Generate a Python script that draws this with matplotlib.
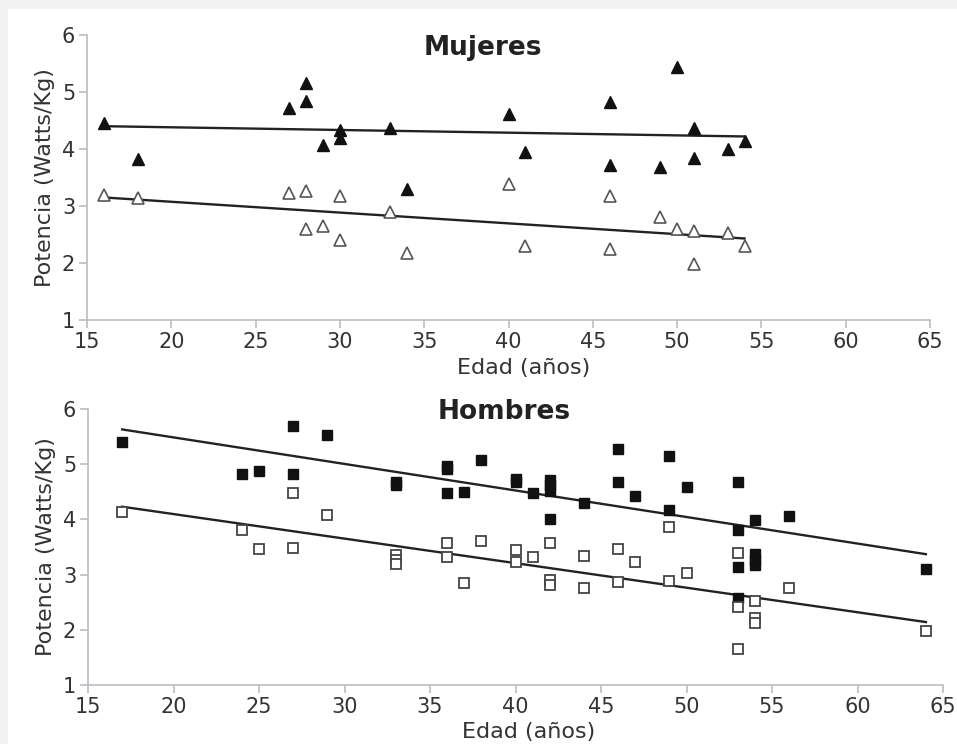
import numpy as np
import matplotlib
matplotlib.use("Agg")
import matplotlib.pyplot as plt
from matplotlib.patches import Rectangle

# Mujeres - potencia alta (triangulos llenos)
muj_edad_a = [16, 18, 27, 28, 28, 29, 30, 30, 33, 34, 40, 41, 46, 46, 49, 50, 51, 51, 53, 54]
muj_pot_a = [4.46, 3.83, 4.72, 5.15, 4.84, 4.07, 4.34, 4.20, 4.36, 3.30,
             4.62, 3.95, 4.82, 3.72, 3.69, 5.43, 4.36, 3.84, 4.00, 4.14]
# Mujeres - potencia baja (triangulos vacios)
muj_edad_b = [16, 18, 27, 28, 28, 29, 30, 30, 33, 34, 40, 41, 46, 46, 49, 50, 51, 51, 53, 54]
muj_pot_b = [3.19, 3.14, 3.23, 3.26, 2.59, 2.65, 3.17, 2.40, 2.90, 2.17,
             3.38, 2.29, 3.17, 2.24, 2.81, 2.60, 2.57, 1.98, 2.52, 2.30]
muj_trend_x = [16, 54]
muj_trend_a = [4.40, 4.22]
muj_trend_b = [3.15, 2.43]

# Hombres - potencia alta (cuadrados llenos)
hom_edad_a = [17, 24, 25, 27, 27, 29, 33, 33, 36, 36, 36, 37, 38, 40, 40, 41, 42, 42, 42, 42,
              44, 46, 46, 47, 49, 49, 50, 53, 53, 53, 53, 54, 54, 54, 54, 56, 64]
hom_pot_a = [5.41, 4.82, 4.87, 5.69, 4.82, 5.52, 4.68, 4.63, 4.97, 4.91, 4.48, 4.50, 5.08,
             4.74, 4.67, 4.48, 4.72, 4.62, 4.52, 4.01, 4.30, 5.27, 4.68, 4.43, 5.15, 4.17,
             4.58, 4.68, 3.81, 3.14, 2.58, 3.99, 3.37, 3.27, 3.18, 4.06, 3.11]
# Hombres - potencia baja (cuadrados vacios)
hom_edad_b = [17, 24, 25, 27, 27, 29, 33, 33, 33, 36, 36, 37, 38, 40, 40, 41, 42, 42, 42,
              44, 44, 46, 46, 47, 49, 49, 50, 53, 53, 53, 54, 54, 54, 56, 64]
hom_pot_b = [4.13, 3.81, 3.46, 4.47, 3.49, 4.08, 3.36, 3.26, 3.19, 3.57, 3.32, 2.84, 3.61,
             3.45, 3.23, 3.32, 3.57, 2.90, 2.82, 3.34, 2.75, 3.46, 2.87, 3.22, 3.87, 2.89,
             3.02, 3.40, 2.41, 1.66, 2.52, 2.21, 2.12, 2.75, 1.98]
hom_trend_x = [17, 64]
hom_trend_a = [5.63, 3.37]
hom_trend_b = [4.23, 2.14]

xticks = [15, 20, 25, 30, 35, 40, 45, 50, 55, 60, 65]
yticks = [1, 2, 3, 4, 5, 6]

W, H = 957, 744
fig = plt.figure(figsize=(W / 100, H / 100), dpi=100)
fig.patch.set_facecolor("#f2f2f2")
fig.patches.append(Rectangle((8 / W, 0), 1, 1 - 9 / H, transform=fig.transFigure,
                             facecolor="white", edgecolor="none", zorder=-10))

spine_col = "#b9bdc4"
txt_col = "#333333"


def style(ax, xlab_x):
    ax.set_xlim(15, 65)
    ax.set_ylim(1, 6)
    ax.set_xticks(xticks)
    ax.set_yticks(yticks)
    ax.set_facecolor("none")
    for s in ["top", "right"]:
        ax.spines[s].set_visible(False)
    for s in ["left", "bottom"]:
        ax.spines[s].set_color(spine_col)
        ax.spines[s].set_linewidth(1.2)
    ax.tick_params(direction="out", length=5.5, width=1.2, color=spine_col,
                   labelsize=15, labelcolor=txt_col, pad=3)
    ax.set_xlabel("Edad (años)", fontsize=16, color=txt_col)
    ax.xaxis.set_label_coords(xlab_x, -0.135)
    ax.set_ylabel("Potencia (Watts/Kg)", fontsize=16, color=txt_col, labelpad=5)


# Mujeres
ax1 = fig.add_axes([87 / W, 1 - 320 / H, (930 - 87) / W, 285 / H])
style(ax1, 0.518)
ax1.plot(muj_trend_x, muj_trend_a, color="#222222", lw=1.7, zorder=2)
ax1.plot(muj_trend_x, muj_trend_b, color="#222222", lw=1.7, zorder=2)
ax1.plot(muj_edad_a, muj_pot_a, "^", ms=8.5, color="#111111", mec="#111111", zorder=3)
ax1.plot(muj_edad_b, muj_pot_b, "^", ms=8.5, mfc="white", mec="#555555", mew=1.2, zorder=3)
ax1.text(0.47, 0.955, "Mujeres", transform=ax1.transAxes, ha="center", va="center",
         fontsize=19, fontweight="bold", color="#222222")

# Hombres
ax2 = fig.add_axes([88 / W, 1 - 685 / H, (943 - 88) / W, 276 / H])
style(ax2, 0.515)
ax2.plot(hom_trend_x, hom_trend_a, color="#222222", lw=1.7, zorder=2)
ax2.plot(hom_trend_x, hom_trend_b, color="#222222", lw=1.7, zorder=2)
ax2.plot(hom_edad_a, hom_pot_a, "s", ms=7.5, color="#111111", mec="#111111", zorder=3)
ax2.plot(hom_edad_b, hom_pot_b, "s", ms=7, mfc="white", mec="#444444", mew=1.3, zorder=3)
ax2.text(0.487, 0.99, "Hombres", transform=ax2.transAxes, ha="center", va="center",
         fontsize=19, fontweight="bold", color="#222222")

fig.savefig("out.png", dpi=100, facecolor=fig.get_facecolor())
